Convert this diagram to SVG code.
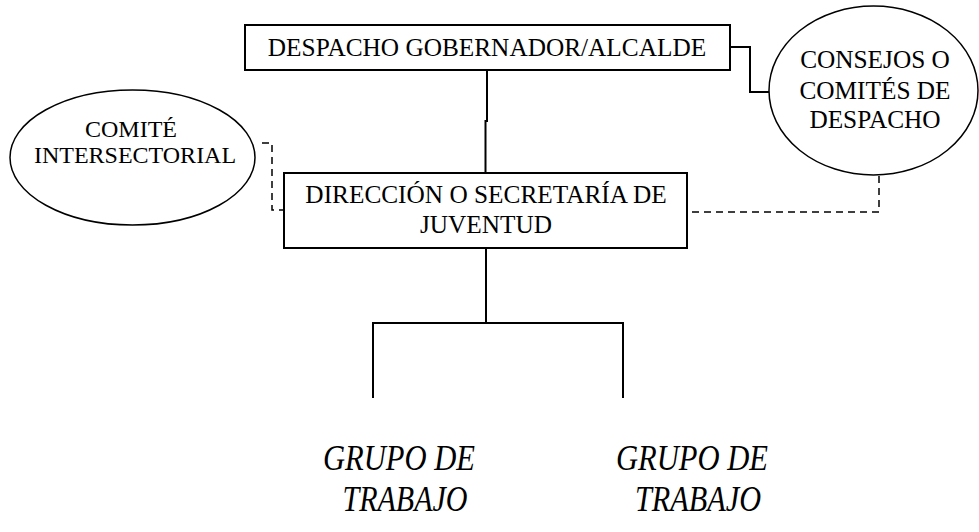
<svg xmlns="http://www.w3.org/2000/svg" width="979" height="532" viewBox="0 0 979 532">
<style>
.box{fill:#fff;stroke:#000;stroke-width:2}
.ell{fill:#fff;stroke:#000;stroke-width:1.5}
.t{font-family:"Liberation Serif","Times New Roman",serif;font-size:25.3px;fill:#000;text-anchor:middle}
.s{font-size:24px}
.g{font-family:"Liberation Serif","Times New Roman",serif;font-style:italic;font-size:36px;fill:#000;text-anchor:middle}
.ln{fill:none;stroke:#000;stroke-width:2}
.dash{fill:none;stroke:#000;stroke-width:1.5;stroke-dasharray:7,5}
</style>
<rect width="979" height="532" fill="#fff"/>
<g id="connectors">
<path class="ln" d="M487,70 V121 H485.5 V173"/>
<path class="ln" d="M730,47 H750 V92 H769"/>
<path class="dash" d="M879,176 V212 H687"/>
<path class="dash" d="M262,143 H272 V210 H284"/>
<path class="ln" d="M486,248 V323"/>
<path class="ln" d="M373,398 V323 H623 V398"/>
</g>
<g id="despacho">
<rect class="box" x="245" y="25" width="485" height="45"/>
<text class="t" x="487" y="56">DESPACHO GOBERNADOR/ALCALDE</text>
</g>
<g id="consejos">
<ellipse class="ell" cx="873.5" cy="90.5" rx="104.5" ry="84.5"/>
<text class="t" x="875" y="68">CONSEJOS O</text>
<text class="t" x="875" y="99">COMITÉS DE</text>
<text class="t" x="875" y="128">DESPACHO</text>
</g>
<g id="comite">
<ellipse class="ell" cx="132.5" cy="157.5" rx="122.5" ry="67.5"/>
<text class="t s" x="131" y="137">COMITÉ</text>
<text class="t s" x="135" y="163">INTERSECTORIAL</text>
</g>
<g id="direccion">
<rect class="box" x="284" y="173" width="403" height="75"/>
<text class="t" x="486" y="203">DIRECCIÓN O SECRETARÍA DE</text>
<text class="t" x="486" y="233">JUVENTUD</text>
</g>
<g id="grupo1">
<text class="g" x="399" y="470" textLength="152" lengthAdjust="spacingAndGlyphs">GRUPO DE</text>
<text class="g" x="405" y="511" textLength="125" lengthAdjust="spacingAndGlyphs">TRABAJO</text>
</g>
<g id="grupo2">
<text class="g" x="692" y="470" textLength="152" lengthAdjust="spacingAndGlyphs">GRUPO DE</text>
<text class="g" x="698" y="511" textLength="126" lengthAdjust="spacingAndGlyphs">TRABAJO</text>
</g>
</svg>
